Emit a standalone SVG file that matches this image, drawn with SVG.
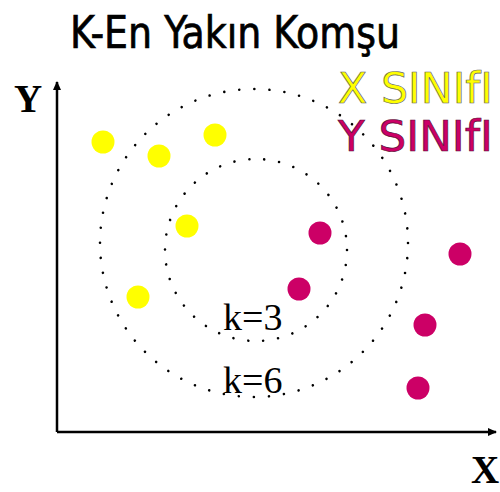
<svg xmlns="http://www.w3.org/2000/svg" width="500" height="492" viewBox="0 0 500 492">
<style>
.title{font-family:"DejaVu Sans Condensed","DejaVu Sans",sans-serif;font-size:45px;fill:#000;stroke:#000;stroke-width:0.7px}
.legend{font-family:"DejaVu Sans",sans-serif;font-size:42px;stroke-width:0.7px}
.ax{font-family:"Liberation Serif",serif;font-weight:bold;font-size:39px;fill:#000}
.k{font-family:"Liberation Serif",serif;font-size:38px;fill:#000}
.ring{fill:none;stroke:#000;stroke-width:2.6;stroke-linecap:round}
.yel{fill:#ffff00}
.mag{fill:#cc0066}
.axis{stroke:#000;stroke-width:2.5;fill:none}
</style>
<defs>
<marker id="arr" markerWidth="10" markerHeight="10" refX="8" refY="5" orient="auto" markerUnits="userSpaceOnUse">
<path d="M0,1 L9,5 L0,9 Z" fill="#000"/>
</marker>
</defs>
<rect width="500" height="492" fill="#fff"/>
<text class="title" x="70" y="48" textLength="330" lengthAdjust="spacingAndGlyphs">K-En Yakın Komşu</text>
<g id="legend">
<text class="legend" x="338" y="103" fill="#ffff00" stroke="#666" textLength="155" lengthAdjust="spacingAndGlyphs">X SINIfI</text>
<text class="legend" x="338" y="151" fill="#cc0066" stroke="#551133" textLength="155" lengthAdjust="spacingAndGlyphs">Y SINIfI</text>
</g>
<g id="axes">
<line class="axis" x1="57" y1="432" x2="57" y2="82" marker-end="url(#arr)"/>
<line class="axis" x1="57" y1="432" x2="496" y2="432" marker-end="url(#arr)"/>
<text class="ax" x="14" y="112">Y</text>
<text class="ax" x="471" y="483">X</text>
</g>
<g id="rings">
<circle class="ring" cx="254" cy="243" r="154" stroke-dasharray="0.01 15.11"/>
<circle class="ring" cx="256" cy="250" r="91" stroke-dasharray="0.01 15.04"/>
</g>
<g id="class-x">
<circle class="yel" cx="103" cy="142" r="11.5"/>
<circle class="yel" cx="159" cy="156" r="11.5"/>
<circle class="yel" cx="215" cy="135" r="11.5"/>
<circle class="yel" cx="187" cy="226" r="11.5"/>
<circle class="yel" cx="138" cy="297" r="11.5"/>
</g>
<g id="class-y">
<circle class="mag" cx="320" cy="233" r="11.5"/>
<circle class="mag" cx="299" cy="289" r="11.5"/>
<circle class="mag" cx="460" cy="254" r="11.5"/>
<circle class="mag" cx="425" cy="325" r="11.5"/>
<circle class="mag" cx="418" cy="388" r="11.5"/>
</g>
<g id="labels">
<text class="k" x="223" y="330">k=3</text>
<text class="k" x="223" y="393">k=6</text>
</g>
</svg>
